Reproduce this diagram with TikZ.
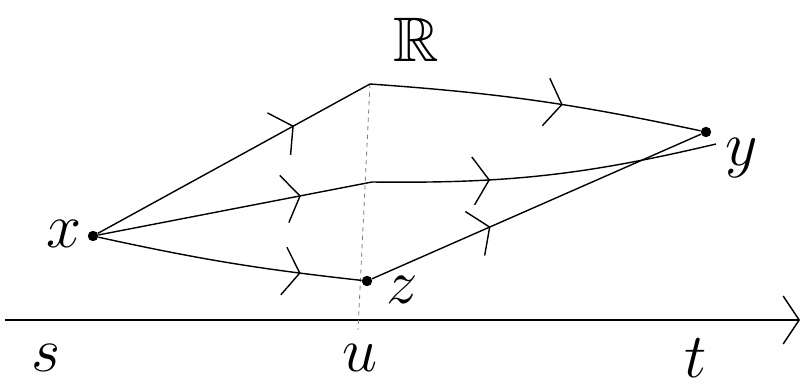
\documentclass[tikz,border=0pt]{standalone}
\usepackage{amssymb}
\usetikzlibrary{arrows.meta,decorations.markings}

\begin{document}
\begin{tikzpicture}[>=Latex,
  dot/.style={circle,fill=black,inner sep=0pt,minimum size=2.6mm},
  lbl/.style={font=\Huge,scale=1.8},
  flow/.style={line width=1pt,postaction={decorate},
    decoration={markings,mark=at position #1 with {\arrow{Straight Barb[length=4mm,width=12mm,line width=1pt]}}}}]
  \useasboundingbox (0,0) rectangle (20.075,9.7);
  % points
  \node[dot] (x) at (2.325,3.8) {};
  \node[dot] (z) at (9.175,2.675) {};
  \node[dot] (y) at (17.65,6.4) {};
  \coordinate (top) at (9.25,7.6);
  \coordinate (mid) at (9.3,5.15);
  \coordinate (midend) at (17.9,6.1);
  \coordinate (sstart) at (0.125,1.7);
  \coordinate (send) at (20.0,1.7);
  \coordinate (ufoot) at (8.95,1.45);
  % labels
  \node[lbl] (R) at (10.4,8.7) {$\mathbb{R}$};
  \node[lbl] (xl) at (1.6,3.85) {$x$};
  \node[lbl] (yl) at (18.55,5.75) {$y$};
  \node[lbl] (zl) at (10.05,2.45) {$z$};
  \node[lbl] (sl) at (1.15,0.75) {$s$};
  \node[lbl] (ul) at (9.0,0.75) {$u$};
  \node[lbl] (tl) at (17.4,0.75) {$t$};
  % axis and the cut at u
  \draw[line width=1pt,-{Straight Barb[length=4mm,width=12mm,line width=1pt]}] (sstart) -- (send);
  \draw[gray,dashed,line width=0.6pt] (top) -- (ufoot);
  % paths from x to y
  \draw[flow=0.72] (x) -- (top);
  \draw[flow=0.58] (top) to[bend left=4] (y);
  \draw[flow=0.74] (x) -- (mid);
  \draw[flow=0.34] (mid) to[bend right=7] (midend);
  \draw[flow=0.77] (x) to[bend right=3] (z);
  \draw[flow=0.36] (z) -- (y);
\end{tikzpicture}
\end{document}
